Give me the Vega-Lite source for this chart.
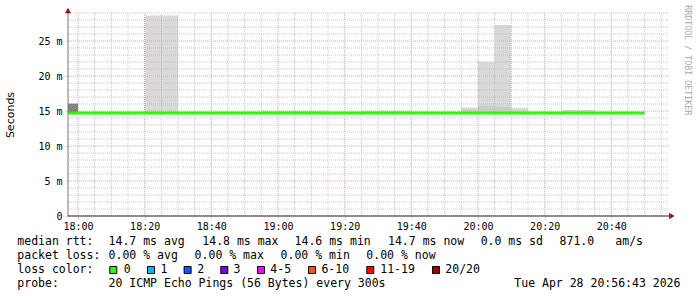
{
"$schema":"https://vega.github.io/schema/vega-lite/v6.json",
"background":"white",
"padding":{"left":4,"top":5,"right":0,"bottom":0},
"bounds":"flush",
"spacing":19,
"config":{"view":{"stroke":null},"font":"DejaVu Sans Mono"},
"datasets":{
 "xgrid":[
  {"t":"2026-04-28T18:00:00Z","level":"major"},{"t":"2026-04-28T18:05:00Z","level":"minor"},{"t":"2026-04-28T18:10:00Z","level":"minor"},{"t":"2026-04-28T18:15:00Z","level":"minor"},
  {"t":"2026-04-28T18:20:00Z","level":"major"},{"t":"2026-04-28T18:25:00Z","level":"minor"},{"t":"2026-04-28T18:30:00Z","level":"minor"},{"t":"2026-04-28T18:35:00Z","level":"minor"},
  {"t":"2026-04-28T18:40:00Z","level":"major"},{"t":"2026-04-28T18:45:00Z","level":"minor"},{"t":"2026-04-28T18:50:00Z","level":"minor"},{"t":"2026-04-28T18:55:00Z","level":"minor"},
  {"t":"2026-04-28T19:00:00Z","level":"major"},{"t":"2026-04-28T19:05:00Z","level":"minor"},{"t":"2026-04-28T19:10:00Z","level":"minor"},{"t":"2026-04-28T19:15:00Z","level":"minor"},
  {"t":"2026-04-28T19:20:00Z","level":"major"},{"t":"2026-04-28T19:25:00Z","level":"minor"},{"t":"2026-04-28T19:30:00Z","level":"minor"},{"t":"2026-04-28T19:35:00Z","level":"minor"},
  {"t":"2026-04-28T19:40:00Z","level":"major"},{"t":"2026-04-28T19:45:00Z","level":"minor"},{"t":"2026-04-28T19:50:00Z","level":"minor"},{"t":"2026-04-28T19:55:00Z","level":"minor"},
  {"t":"2026-04-28T20:00:00Z","level":"major"},{"t":"2026-04-28T20:05:00Z","level":"minor"},{"t":"2026-04-28T20:10:00Z","level":"minor"},{"t":"2026-04-28T20:15:00Z","level":"minor"},
  {"t":"2026-04-28T20:20:00Z","level":"major"},{"t":"2026-04-28T20:25:00Z","level":"minor"},{"t":"2026-04-28T20:30:00Z","level":"minor"},{"t":"2026-04-28T20:35:00Z","level":"minor"},
  {"t":"2026-04-28T20:40:00Z","level":"major"},{"t":"2026-04-28T20:45:00Z","level":"minor"},{"t":"2026-04-28T20:50:00Z","level":"minor"},{"t":"2026-04-28T20:55:00Z","level":"minor"}
 ],
 "ygrid":[
  {"v":1,"level":"minor"},{"v":2,"level":"minor"},{"v":3,"level":"minor"},{"v":4,"level":"minor"},{"v":5,"level":"major"},
  {"v":6,"level":"minor"},{"v":7,"level":"minor"},{"v":8,"level":"minor"},{"v":9,"level":"minor"},{"v":10,"level":"major"},
  {"v":11,"level":"minor"},{"v":12,"level":"minor"},{"v":13,"level":"minor"},{"v":14,"level":"minor"},{"v":15,"level":"major"},
  {"v":16,"level":"minor"},{"v":17,"level":"minor"},{"v":18,"level":"minor"},{"v":19,"level":"minor"},{"v":20,"level":"major"},
  {"v":21,"level":"minor"},{"v":22,"level":"minor"},{"v":23,"level":"minor"},{"v":24,"level":"minor"},{"v":25,"level":"major"},
  {"v":26,"level":"minor"},{"v":27,"level":"minor"},{"v":28,"level":"minor"},{"v":29,"level":"minor"}
 ],
 "smoke":[
  {"t0":"2026-04-28T17:57:00Z","t1":"2026-04-28T18:00:00Z","lo":14.6,"hi":16.05,"kind":"dark"},
  {"t0":"2026-04-28T18:20:00Z","t1":"2026-04-28T18:30:00Z","lo":14.6,"hi":28.65,"kind":"outer"},
  {"t0":"2026-04-28T18:55:00Z","t1":"2026-04-28T19:15:00Z","lo":14.6,"hi":15.05,"kind":"outer"},
  {"t0":"2026-04-28T19:25:00Z","t1":"2026-04-28T19:40:00Z","lo":14.6,"hi":15.05,"kind":"outer"},
  {"t0":"2026-04-28T19:55:00Z","t1":"2026-04-28T20:00:00Z","lo":14.6,"hi":15.5,"kind":"outer"},
  {"t0":"2026-04-28T20:00:00Z","t1":"2026-04-28T20:05:00Z","lo":14.6,"hi":22.05,"kind":"outer"},
  {"t0":"2026-04-28T20:05:00Z","t1":"2026-04-28T20:10:00Z","lo":14.6,"hi":27.3,"kind":"outer"},
  {"t0":"2026-04-28T20:10:00Z","t1":"2026-04-28T20:15:00Z","lo":14.6,"hi":15.45,"kind":"outer"},
  {"t0":"2026-04-28T20:25:00Z","t1":"2026-04-28T20:35:00Z","lo":14.6,"hi":15.15,"kind":"outer"},
  {"t0":"2026-04-28T19:55:00Z","t1":"2026-04-28T20:00:00Z","lo":14.6,"hi":15.2,"kind":"inner"},
  {"t0":"2026-04-28T20:00:00Z","t1":"2026-04-28T20:05:00Z","lo":14.6,"hi":15.75,"kind":"inner"},
  {"t0":"2026-04-28T20:05:00Z","t1":"2026-04-28T20:10:00Z","lo":14.6,"hi":15.6,"kind":"inner"}
 ],
 "median":[
  {"t":"2026-04-28T17:57:00Z","v":14.7},{"t":"2026-04-28T18:00:00Z","v":14.7},{"t":"2026-04-28T18:05:00Z","v":14.7},{"t":"2026-04-28T18:10:00Z","v":14.7},
  {"t":"2026-04-28T18:15:00Z","v":14.7},{"t":"2026-04-28T18:20:00Z","v":14.7},{"t":"2026-04-28T18:25:00Z","v":14.7},{"t":"2026-04-28T18:30:00Z","v":14.7},
  {"t":"2026-04-28T18:35:00Z","v":14.7},{"t":"2026-04-28T18:40:00Z","v":14.7},{"t":"2026-04-28T18:45:00Z","v":14.7},{"t":"2026-04-28T18:50:00Z","v":14.7},
  {"t":"2026-04-28T18:55:00Z","v":14.7},{"t":"2026-04-28T19:00:00Z","v":14.7},{"t":"2026-04-28T19:05:00Z","v":14.7},{"t":"2026-04-28T19:10:00Z","v":14.7},
  {"t":"2026-04-28T19:15:00Z","v":14.7},{"t":"2026-04-28T19:20:00Z","v":14.7},{"t":"2026-04-28T19:25:00Z","v":14.7},{"t":"2026-04-28T19:30:00Z","v":14.7},
  {"t":"2026-04-28T19:35:00Z","v":14.7},{"t":"2026-04-28T19:40:00Z","v":14.7},{"t":"2026-04-28T19:45:00Z","v":14.7},{"t":"2026-04-28T19:50:00Z","v":14.7},
  {"t":"2026-04-28T19:55:00Z","v":14.7},{"t":"2026-04-28T20:00:00Z","v":14.7},{"t":"2026-04-28T20:05:00Z","v":14.7},{"t":"2026-04-28T20:10:00Z","v":14.7},
  {"t":"2026-04-28T20:15:00Z","v":14.7},{"t":"2026-04-28T20:20:00Z","v":14.7},{"t":"2026-04-28T20:25:00Z","v":14.7},{"t":"2026-04-28T20:30:00Z","v":14.7},
  {"t":"2026-04-28T20:35:00Z","v":14.7},{"t":"2026-04-28T20:40:00Z","v":14.7},{"t":"2026-04-28T20:45:00Z","v":14.7},{"t":"2026-04-28T20:50:00Z","v":14.7}
 ],
 "frame":[
  {"part":"y","t0":"2026-04-28T17:57:00Z","t1":"2026-04-28T17:57:00Z","v0":0,"v1":29.2},
  {"part":"x","t0":"2026-04-28T17:57:00Z","t1":"2026-04-28T20:58:00Z","v0":0,"v1":0}
 ],
 "arrows":[
  {"dir":"up","t":"2026-04-28T17:57:00Z","v":29.35},
  {"dir":"right","t":"2026-04-28T20:58:10Z","v":0}
 ],
 "mark":[{"t":"2026-04-28T21:02:50Z","v":30.1,"label":"RRDTOOL / TOBI OETIKER"}],
 "legend":[
  {"row":0,"col":0,"text":"median rtt:"},
  {"row":0,"col":13.04,"text":"14.7 ms avg"},
  {"row":0,"col":26.43,"text":"14.8 ms max"},
  {"row":0,"col":39.61,"text":"14.6 ms min"},
  {"row":0,"col":52.96,"text":"14.7 ms now"},
  {"row":0,"col":66.19,"text":"0.0 ms sd"},
  {"row":0,"col":77.47,"text":"871.0"},
  {"row":0,"col":85.43,"text":"am/s"},
  {"row":1,"col":0,"text":"packet loss:"},
  {"row":1,"col":13.04,"text":"0.00 % avg"},
  {"row":1,"col":25.33,"text":"0.00 % max"},
  {"row":1,"col":37.61,"text":"0.00 % min"},
  {"row":1,"col":49.86,"text":"0.00 % now"},
  {"row":2,"col":0,"text":"loss color:"},
  {"row":2,"col":15.2,"text":"0"},
  {"row":2,"col":20.45,"text":"1"},
  {"row":2,"col":25.7,"text":"2"},
  {"row":2,"col":30.9,"text":"3"},
  {"row":2,"col":36.15,"text":"4-5"},
  {"row":2,"col":43.45,"text":"6-10"},
  {"row":2,"col":51.85,"text":"11-19"},
  {"row":2,"col":61.15,"text":"20/20"},
  {"row":3,"col":0,"text":"probe:"},
  {"row":3,"col":13.04,"text":"20 ICMP Echo Pings (56 Bytes) every 300s"},
  {"row":3,"col":71.0,"text":"Tue Apr 28 20:56:43 2026"}
 ],
 "loss":[
  {"row":2,"col":13.71,"bin":"0"},
  {"row":2,"col":19.1,"bin":"1"},
  {"row":2,"col":24.33,"bin":"2"},
  {"row":2,"col":29.57,"bin":"3"},
  {"row":2,"col":34.81,"bin":"4-5"},
  {"row":2,"col":42.1,"bin":"6-10"},
  {"row":2,"col":50.43,"bin":"11-19"},
  {"row":2,"col":59.81,"bin":"20/20"}
 ]
},
"vconcat":[
 {
  "width":600,"height":203,
  "resolve":{"scale":{"color":"independent"}},
  "layer":[
   {"data":{"name":"xgrid"},
    "transform":[{"filter":"datum.level == 'minor'"}],
    "mark":{"type":"rule","strokeDash":[1,1],"strokeWidth":1,"color":"#c8c8c8"},
    "encoding":{
     "x":{"field":"t","type":"temporal",
      "scale":{"type":"utc","domain":[{"year":2026,"month":4,"date":28,"hours":17,"minutes":57,"utc":true},{"year":2026,"month":4,"date":28,"hours":20,"minutes":57,"utc":true}]},
      "axis":{
       "title":null,"domain":false,"grid":false,
       "values":[
        {"year":2026,"month":4,"date":28,"hours":18,"minutes":0,"utc":true},
        {"year":2026,"month":4,"date":28,"hours":18,"minutes":20,"utc":true},
        {"year":2026,"month":4,"date":28,"hours":18,"minutes":40,"utc":true},
        {"year":2026,"month":4,"date":28,"hours":19,"minutes":0,"utc":true},
        {"year":2026,"month":4,"date":28,"hours":19,"minutes":20,"utc":true},
        {"year":2026,"month":4,"date":28,"hours":19,"minutes":40,"utc":true},
        {"year":2026,"month":4,"date":28,"hours":20,"minutes":0,"utc":true},
        {"year":2026,"month":4,"date":28,"hours":20,"minutes":20,"utc":true},
        {"year":2026,"month":4,"date":28,"hours":20,"minutes":40,"utc":true}],
       "format":"%H:%M",
       "labelFont":"DejaVu Sans Mono","labelFontSize":10,"labelColor":"#000000",
       "labelPadding":2,"labelOverlap":false,"labelFlush":false,
       "tickSize":3,"tickColor":"#f0a0a0","tickDash":[1,1]
      }}}},
   {"data":{"name":"xgrid"},
    "transform":[{"filter":"datum.level == 'major'"}],
    "mark":{"type":"rule","strokeDash":[1,1],"strokeWidth":1,"color":"#f0a0a0"},
    "encoding":{
     "x":{"field":"t","type":"temporal","scale":{"type":"utc","domain":[{"year":2026,"month":4,"date":28,"hours":17,"minutes":57,"utc":true},{"year":2026,"month":4,"date":28,"hours":20,"minutes":57,"utc":true}]}}}},
   {"data":{"name":"ygrid"},
    "transform":[{"filter":"datum.level == 'minor'"}],
    "mark":{"type":"rule","strokeDash":[1,1],"strokeWidth":1,"color":"#c8c8c8"},
    "encoding":{
     "y":{"field":"v","type":"quantitative",
      "scale":{"domain":[0,29],"nice":false},
      "axis":{
       "title":"Seconds","titleFont":"DejaVu Sans","titleFontSize":11,"titleFontWeight":"normal","titleColor":"#000000",
       "titleX":-55,"titleBaseline":"alphabetic",
       "domain":false,"grid":false,
       "values":[0,5,10,15,20,25],
       "labelExpr":"datum.value == 0 ? '0  ' : datum.value + ' m'",
       "labelFont":"DejaVu Sans Mono","labelFontSize":10,"labelColor":"#000000",
       "labelPadding":3,"labelOverlap":false,"labelFlush":false,
       "tickSize":3,"tickColor":"#f0a0a0","tickDash":[1,1]
      }}}},
   {"data":{"name":"ygrid"},
    "transform":[{"filter":"datum.level == 'major'"}],
    "mark":{"type":"rule","strokeDash":[1,1],"strokeWidth":1,"color":"#f0a0a0"},
    "encoding":{
     "y":{"field":"v","type":"quantitative","scale":{"domain":[0,29],"nice":false}}}},
   {"data":{"name":"smoke"},
    "mark":{"type":"rect","fillOpacity":0.5},
    "encoding":{
     "x":{"field":"t0","type":"temporal","scale":{"type":"utc","domain":[{"year":2026,"month":4,"date":28,"hours":17,"minutes":57,"utc":true},{"year":2026,"month":4,"date":28,"hours":20,"minutes":57,"utc":true}]}},
     "x2":{"field":"t1"},
     "y":{"field":"lo","type":"quantitative","scale":{"domain":[0,29],"nice":false}},
     "y2":{"field":"hi"},
     "color":{"field":"kind","type":"nominal","scale":{"domain":["outer","inner","dark"],"range":["#b4b4b4","#c0c0c0","#0c0c0c"]},"legend":null}
    }},
   {"data":{"name":"median"},
    "mark":{"type":"line","interpolate":"step-after","strokeWidth":3,"color":"#26ff00"},
    "encoding":{
     "x":{"field":"t","type":"temporal","scale":{"type":"utc","domain":[{"year":2026,"month":4,"date":28,"hours":17,"minutes":57,"utc":true},{"year":2026,"month":4,"date":28,"hours":20,"minutes":57,"utc":true}]}},
     "y":{"field":"v","type":"quantitative","scale":{"domain":[0,29],"nice":false}}}},
   {"data":{"name":"frame"},
    "transform":[{"filter":"datum.part == 'y'"}],
    "mark":{"type":"rule","strokeWidth":1,"color":"#777777"},
    "encoding":{
     "x":{"field":"t0","type":"temporal","scale":{"type":"utc","domain":[{"year":2026,"month":4,"date":28,"hours":17,"minutes":57,"utc":true},{"year":2026,"month":4,"date":28,"hours":20,"minutes":57,"utc":true}]}},
     "x2":{"field":"t1"},
     "y":{"field":"v0","type":"quantitative","scale":{"domain":[0,29],"nice":false}},
     "y2":{"field":"v1"}}},
   {"data":{"name":"frame"},
    "transform":[{"filter":"datum.part == 'x'"}],
    "mark":{"type":"rule","strokeWidth":1,"color":"#1a1a1a"},
    "encoding":{
     "x":{"field":"t0","type":"temporal","scale":{"type":"utc","domain":[{"year":2026,"month":4,"date":28,"hours":17,"minutes":57,"utc":true},{"year":2026,"month":4,"date":28,"hours":20,"minutes":57,"utc":true}]}},
     "x2":{"field":"t1"},
     "y":{"field":"v0","type":"quantitative","scale":{"domain":[0,29],"nice":false}},
     "y2":{"field":"v1"}}},
   {"data":{"name":"arrows"},
    "transform":[{"filter":"datum.dir == 'up'"}],
    "mark":{"type":"point","shape":"triangle-up","filled":true,"size":40,"color":"#8b1a1a","opacity":1},
    "encoding":{
     "x":{"field":"t","type":"temporal","scale":{"type":"utc","domain":[{"year":2026,"month":4,"date":28,"hours":17,"minutes":57,"utc":true},{"year":2026,"month":4,"date":28,"hours":20,"minutes":57,"utc":true}]}},
     "y":{"field":"v","type":"quantitative","scale":{"domain":[0,29],"nice":false}}}},
   {"data":{"name":"arrows"},
    "transform":[{"filter":"datum.dir == 'right'"}],
    "mark":{"type":"point","shape":"triangle-right","filled":true,"size":40,"color":"#8b1a1a","opacity":1},
    "encoding":{
     "x":{"field":"t","type":"temporal","scale":{"type":"utc","domain":[{"year":2026,"month":4,"date":28,"hours":17,"minutes":57,"utc":true},{"year":2026,"month":4,"date":28,"hours":20,"minutes":57,"utc":true}]}},
     "y":{"field":"v","type":"quantitative","scale":{"domain":[0,29],"nice":false}}}},
   {"data":{"name":"mark"},
    "mark":{"type":"text","angle":90,"align":"left","baseline":"middle","font":"DejaVu Sans Mono","fontSize":8.3,"color":"#aaaaaa"},
    "encoding":{
     "x":{"field":"t","type":"temporal","scale":{"type":"utc","domain":[{"year":2026,"month":4,"date":28,"hours":17,"minutes":57,"utc":true},{"year":2026,"month":4,"date":28,"hours":20,"minutes":57,"utc":true}]}},
     "y":{"field":"v","type":"quantitative","scale":{"domain":[0,29],"nice":false}},
     "text":{"field":"label"}}}
  ]
 },
 {
  "width":600,"height":56,
  "resolve":{"scale":{"color":"independent"}},
  "layer":[
   {"data":{"name":"legend"},
    "mark":{"type":"text","align":"left","baseline":"middle","font":"DejaVu Sans Mono","fontSize":11.5,"color":"#000000"},
    "encoding":{
     "x":{"field":"col","type":"quantitative","scale":{"domain":[7.243,92.957],"nice":false,"zero":false},"axis":null},
     "y":{"field":"row","type":"quantitative","scale":{"domain":[-0.5,3.5],"reverse":true,"nice":false,"zero":false},"axis":null},
     "text":{"field":"text"}}},
   {"data":{"name":"loss"},
    "mark":{"type":"point","shape":"square","filled":true,"size":49,"stroke":"#000000","strokeWidth":1,"opacity":1},
    "encoding":{
     "x":{"field":"col","type":"quantitative","scale":{"domain":[7.243,92.957],"nice":false,"zero":false},"axis":null},
     "y":{"field":"row","type":"quantitative","scale":{"domain":[-0.5,3.5],"reverse":true,"nice":false,"zero":false},"axis":null},
     "color":{"field":"bin","type":"nominal","scale":{"domain":["0","1","2","3","4-5","6-10","11-19","20/20"],"range":["#26ff00","#00b8ff","#0059ff","#7e00ff","#ff00ff","#ff5500","#ff0000","#a10000"]},"legend":null}}}
  ]
 }
]
}
